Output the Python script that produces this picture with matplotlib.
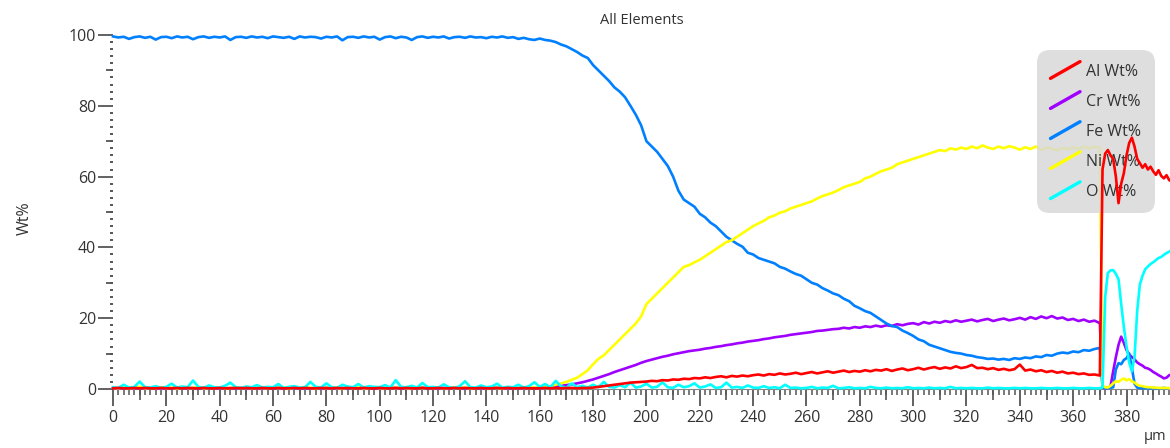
import numpy as np
import matplotlib
matplotlib.use("Agg")
import matplotlib.pyplot as plt
from matplotlib.lines import Line2D
from matplotlib.legend_handler import HandlerBase
from matplotlib.ticker import MultipleLocator

plt.rcParams["font.family"] = ["Open Sans", "DejaVu Sans"]

# positions along the line scan (µm)
x_main = np.arange(0, 372, 2)      # 0 .. 370
x_tail = np.arange(371, 398, 1)    # 371 .. 397 (oxide zone)

fe_main = [
    99.6, 99.3, 99.5, 98.9, 99.4, 99.6, 99.2, 99.5, 98.7, 99.4,
    99.5, 99.1, 99.6, 99.3, 99.5, 98.8, 99.4, 99.6, 99.2, 99.5,
    99.3, 99.6, 98.6, 99.4, 99.5, 99.2, 99.6, 99.3, 99.5, 99.1,
    99.6, 99.4, 99.2, 99.5, 98.9, 99.6, 99.3, 99.5, 99.4, 99.0,
    99.5, 99.3, 99.6, 98.5, 99.4, 99.5, 99.2, 99.6, 99.3, 99.5,
    98.7, 99.4, 99.6, 99.1, 99.5, 99.3, 98.6, 99.4, 99.6, 99.2,
    99.5, 99.3, 99.6, 99.0, 99.4, 99.5, 99.2, 99.6, 99.3, 99.4,
    99.1, 99.5, 99.3, 99.6, 99.2, 99.4, 98.9, 99.2, 98.8, 98.6,
    99.0, 98.6, 98.4, 98.0, 97.3, 96.8, 96.0, 95.2, 94.2, 93.5,
    91.5, 90.0, 88.5, 87.0, 85.2, 84.0, 82.4, 80.0, 77.5, 74.5,
    70.0, 68.5, 67.0, 65.0, 63.0, 60.0, 56.0, 53.5, 52.5, 51.5,
    49.5, 48.5, 47.0, 46.0, 44.5, 43.0, 42.0, 41.0, 40.2, 38.5,
    38.0, 37.0, 36.5, 36.0, 35.5, 34.5, 34.0, 33.2, 32.5, 32.0,
    31.0, 30.0, 29.5, 28.5, 27.8, 27.0, 26.5, 25.5, 24.8, 23.5,
    22.8, 22.0, 21.5, 20.5, 19.5, 18.5, 17.8, 17.5, 16.5, 15.8,
    15.0, 14.0, 13.5, 12.5, 12.0, 11.5, 11.0, 10.5, 10.2, 10.0,
    9.6, 9.4, 9.0, 8.8, 8.5, 8.6, 8.3, 8.5, 8.2, 8.7,
    8.5, 8.9, 8.7, 9.2, 9.0, 9.6, 9.4, 10.0, 10.3, 10.1,
    10.6, 10.4, 11.0, 10.8, 11.3, 11.6,
]
fe_tail = [0.5, 0.2, 0.3, 0.3, 0.5, 5.5, 7.3, 7.0, 8.2, 8.7, 10.0, 6.0, 1.5, 0.4,
           0.3, 0.2, 0.3, 0.2, 0.2, 0.3, 0.2, 0.2, 0.2, 0.3, 0.2, 0.2, 0.2]

ni_main = [
    0.4, 0.2, 0.5, 0.3, 0.3, 0.6, 0.2, 0.4, 0.3, 0.5,
    0.3, 0.4, 0.2, 0.5, 0.3, 0.3, 0.6, 0.2, 0.4, 0.3,
    0.5, 0.2, 0.3, 0.4, 0.3, 0.5, 0.2, 0.4, 0.3, 0.3,
    0.4, 0.3, 0.5, 0.2, 0.4, 0.3, 0.6, 0.3, 0.2, 0.4,
    0.3, 0.5, 0.3, 0.2, 0.4, 0.3, 0.5, 0.2, 0.3, 0.4,
    0.3, 0.2, 0.5, 0.3, 0.4, 0.3, 0.2, 0.5, 0.3, 0.4,
    0.3, 0.4, 0.2, 0.3, 0.5, 0.3, 0.4, 0.2, 0.3, 0.5,
    0.3, 0.4, 0.3, 0.2, 0.5, 0.3, 0.4, 0.3, 0.5, 0.4,
    0.4, 0.6, 0.8, 1.2, 1.6, 2.0, 2.6, 3.2, 4.2, 5.3,
    7.0, 8.5, 9.5, 11.0, 12.5, 14.0, 15.5, 17.0, 18.5, 20.5,
    24.0, 25.5, 27.0, 28.5, 30.0, 31.5, 33.0, 34.5, 35.0, 35.8,
    36.5, 37.5, 38.5, 39.5, 40.5, 41.5, 42.0, 43.0, 44.0, 45.0,
    46.0, 46.8, 47.5, 48.5, 49.0, 49.8, 50.2, 51.0, 51.5, 52.0,
    52.5, 53.0, 53.8, 54.5, 55.0, 55.5, 56.2, 57.0, 57.5, 58.0,
    58.5, 59.5, 60.0, 60.8, 61.5, 62.0, 62.5, 63.5, 64.0, 64.5,
    65.0, 65.5, 66.0, 66.5, 67.0, 67.5, 67.2, 68.0, 67.6, 68.2,
    67.8, 68.5, 68.0, 68.8, 68.2, 67.8, 68.5, 68.0, 68.6, 68.2,
    67.6, 68.3, 67.8, 68.5, 67.5, 68.2, 67.9, 67.4, 68.1, 67.7,
    68.3, 67.8, 68.5, 68.0, 68.4, 68.2,
]
ni_tail = [1.0, 0.5, 0.4, 0.9, 1.6, 2.2, 2.0, 2.6, 3.0, 2.4, 2.8, 2.2, 1.8, 1.2,
           0.9, 0.8, 0.6, 0.5, 0.5, 0.4, 0.4, 0.3, 0.3, 0.3, 0.3, 0.2, 0.2]

cr_main = [
    0.3, 0.2, 0.3, 0.4, 0.2, 0.3, 0.2, 0.4, 0.3, 0.2,
    0.3, 0.2, 0.4, 0.3, 0.2, 0.3, 0.2, 0.3, 0.4, 0.2,
    0.3, 0.2, 0.3, 0.2, 0.4, 0.3, 0.2, 0.3, 0.2, 0.4,
    0.2, 0.3, 0.2, 0.4, 0.3, 0.2, 0.3, 0.2, 0.3, 0.2,
    0.4, 0.3, 0.2, 0.3, 0.2, 0.4, 0.3, 0.2, 0.3, 0.2,
    0.3, 0.2, 0.4, 0.3, 0.2, 0.3, 0.2, 0.3, 0.4, 0.2,
    0.3, 0.2, 0.3, 0.2, 0.4, 0.3, 0.2, 0.3, 0.2, 0.3,
    0.2, 0.4, 0.3, 0.2, 0.3, 0.2, 0.3, 0.2, 0.4, 0.3,
    0.3, 0.4, 0.5, 0.7, 0.9, 1.1, 1.3, 1.6, 1.9, 2.3,
    2.7, 3.2, 3.7, 4.2, 4.8, 5.3, 5.8, 6.3, 6.8, 7.4,
    7.9, 8.3, 8.7, 9.1, 9.4, 9.8, 10.1, 10.4, 10.7, 10.9,
    11.1, 11.4, 11.6, 11.9, 12.1, 12.4, 12.6, 12.9, 13.1, 13.4,
    13.6, 13.8, 14.1, 14.3, 14.6, 14.8, 15.0, 15.3, 15.5, 15.7,
    15.9, 16.1, 16.4, 16.5, 16.7, 16.9, 17.0, 17.3, 17.1, 17.5,
    17.3, 17.7, 17.5, 17.9, 17.6, 18.0, 17.8, 18.3, 18.0, 18.4,
    18.6, 18.2, 18.9, 18.5, 19.0, 18.7, 19.2, 18.9, 19.4, 19.0,
    19.3, 19.6, 19.1, 19.5, 19.8, 19.2, 19.6, 19.9, 19.4, 19.7,
    20.1, 19.6, 20.3, 19.8, 20.5, 20.0, 20.6, 19.9, 20.2, 19.5,
    19.8, 19.2, 19.6, 19.0, 19.3, 18.6,
]
cr_tail = [0.5, 0.2, 0.3, 0.8, 5.0, 9.0, 12.5, 14.8, 13.0, 11.0, 9.8, 9.0, 8.4, 7.5,
           7.0, 6.6, 6.0, 5.8, 5.4, 4.8, 4.4, 3.9, 3.5, 3.0, 3.2, 3.9, 4.1]

al_main = [
    0.2, 0.3, 0.2, 0.2, 0.3, 0.2, 0.3, 0.2, 0.2, 0.3,
    0.2, 0.2, 0.3, 0.2, 0.3, 0.2, 0.2, 0.3, 0.2, 0.2,
    0.3, 0.2, 0.2, 0.3, 0.2, 0.3, 0.2, 0.2, 0.3, 0.2,
    0.2, 0.3, 0.2, 0.2, 0.3, 0.2, 0.3, 0.2, 0.2, 0.3,
    0.2, 0.2, 0.3, 0.2, 0.3, 0.2, 0.2, 0.3, 0.2, 0.2,
    0.3, 0.2, 0.2, 0.3, 0.2, 0.3, 0.2, 0.2, 0.3, 0.2,
    0.2, 0.3, 0.2, 0.2, 0.3, 0.2, 0.3, 0.2, 0.2, 0.3,
    0.2, 0.2, 0.3, 0.2, 0.3, 0.2, 0.2, 0.3, 0.2, 0.2,
    0.2, 0.3, 0.2, 0.3, 0.2, 0.3, 0.3, 0.2, 0.3, 0.3,
    0.4, 0.6, 0.8, 1.0, 1.2, 1.4, 1.6, 1.8, 1.9, 2.0,
    2.1, 2.3, 2.2, 2.5, 2.4, 2.7, 2.6, 2.9, 2.8, 3.1,
    3.0, 3.3, 3.1, 3.4, 3.6, 3.3, 3.7, 3.5, 3.8, 3.6,
    3.9, 4.1, 3.8, 4.2, 4.0, 4.4, 4.1, 4.3, 4.6, 4.2,
    4.5, 4.8, 4.4, 4.7, 5.0, 4.6, 4.9, 5.2, 4.8, 5.1,
    4.9, 5.3, 5.0, 5.4, 5.2, 5.6, 5.1, 5.5, 5.8, 5.3,
    5.6, 6.0, 5.5, 5.9, 6.2, 5.7, 6.1, 5.8, 6.4, 5.9,
    6.2, 6.8, 5.9, 6.0, 5.6, 5.9, 5.4, 5.7, 5.3, 5.6,
    6.9, 5.2, 5.5, 5.0, 5.3, 4.8, 5.1, 4.6, 4.9, 4.4,
    4.6, 4.2, 4.4, 4.0, 4.1, 3.8,
]
al_tail = [62.0, 66.5, 67.5, 66.0, 65.0, 60.0, 52.5, 58.0, 61.0, 66.0, 69.5, 71.0,
           68.5, 65.0, 63.8, 62.5, 63.5, 62.0, 62.8, 61.5, 60.5, 61.8, 60.2, 59.5,
           60.4, 59.0, 58.6]

o_main = [
    0.5, 0.3, 1.2, 0.4, 0.6, 2.1, 0.5, 0.4, 0.8, 0.3,
    0.6, 1.5, 0.4, 0.7, 0.5, 2.4, 0.6, 0.3, 1.0, 0.5,
    0.4, 0.9, 1.8, 0.5, 0.3, 0.7, 0.5, 1.1, 0.4, 0.6,
    0.5, 1.4, 0.3, 0.6, 0.8, 0.4, 0.5, 2.0, 0.6, 0.4,
    1.6, 0.5, 0.3, 1.2, 0.7, 0.5, 1.4, 0.4, 0.8, 0.6,
    0.5, 1.1, 0.4, 2.5, 0.6, 0.5, 0.9, 0.4, 1.7, 0.5,
    0.6, 0.4, 1.3, 0.5, 0.3, 0.8, 2.2, 0.5, 0.4, 1.0,
    0.5, 0.7, 1.5, 0.4, 0.6, 0.5, 1.2, 0.4, 0.8, 1.9,
    0.6, 1.4, 0.5, 2.3, 0.7, 0.4, 1.6, 0.5, 0.9, 0.4,
    1.2, 0.5, 2.0, 0.6, 0.4, 1.1, 0.5, 1.8, 0.4, 0.7,
    1.5, 0.4, 0.6, 1.9, 0.5, 0.3, 1.2, 0.5, 0.8, 1.6,
    0.4, 0.7, 1.3, 0.3, 0.5, 1.8, 0.4, 0.6, 0.3, 1.0,
    0.4, 0.3, 0.8, 0.3, 0.5, 0.2, 1.2, 0.3, 0.4, 0.2,
    0.3, 0.6, 0.2, 0.4, 0.3, 0.9, 0.2, 0.3, 0.5, 0.2,
    0.3, 0.2, 0.6, 0.3, 0.2, 0.4, 0.2, 0.3, 0.2, 0.5,
    0.2, 0.3, 0.2, 0.4, 0.2, 0.3, 0.2, 0.6, 0.2, 0.3,
    0.2, 0.3, 0.2, 0.2, 0.4, 0.2, 0.3, 0.2, 0.2, 0.3,
    0.2, 0.3, 0.2, 0.2, 0.3, 0.2, 0.2, 0.3, 0.2, 0.2,
    0.3, 0.2, 0.2, 0.3, 0.2, 0.2,
]
o_tail = [0.5, 26.0, 32.8, 33.5, 33.6, 32.5, 31.0, 24.0, 17.5, 12.0, 7.5, 5.0, 9.0,
          22.0, 29.5, 32.0, 33.8, 34.6, 35.3, 35.8, 36.4, 37.0, 37.3, 37.9, 38.4,
          38.8, 39.3]

labels = ["Al Wt%", "Cr Wt%", "Fe Wt%", "Ni Wt%", "O Wt%"]
colors = ["#ff0000", "#a000ff", "#0080ff", "#ffff00", "#00ffff"]


class DiagonalHandler(HandlerBase):
    # legend key drawn as a short rising stroke
    def create_artists(self, legend, orig_handle, xdescent, ydescent,
                       width, height, fontsize, trans):
        line = Line2D([-xdescent, -xdescent + width],
                      [-ydescent - 0.25 * height, -ydescent + 1.25 * height],
                      color=orig_handle.get_color(), lw=2.4,
                      solid_capstyle="round", transform=trans)
        return [line]


x_all = np.concatenate([x_main, x_tail])
series = {
    "Al Wt%": al_main + al_tail,
    "Cr Wt%": cr_main + cr_tail,
    "Fe Wt%": fe_main + fe_tail,
    "Ni Wt%": ni_main + ni_tail,
    "O Wt%": o_main + o_tail,
}
zorders = {"Al Wt%": 5, "Cr Wt%": 3, "Fe Wt%": 3, "Ni Wt%": 3, "O Wt%": 3.2}

fig = plt.figure(figsize=(11.7, 4.48), dpi=100)
ax = fig.add_axes([113 / 1170, 59 / 448, 1 - 113 / 1170, 354 / 448])

handles = []
for lab, col in zip(labels, colors):
    h, = ax.plot(x_all, series[lab], color=col, lw=1.9, clip_on=False,
                 zorder=zorders[lab], label=lab)
    handles.append(h)

ax.set_xlim(0, 396.3)
ax.set_ylim(0, 100)

for s in ["top", "right", "left"]:
    ax.spines[s].set_visible(False)
ax.spines["bottom"].set_color("#888888")
ax.spines["bottom"].set_linewidth(0.8)

ax.xaxis.set_major_locator(MultipleLocator(20))
ax.xaxis.set_minor_locator(MultipleLocator(2))
ax.yaxis.set_major_locator(MultipleLocator(20))
ax.yaxis.set_minor_locator(MultipleLocator(2))
ax.tick_params(axis="x", which="major", length=12, width=1.3, color="#555555",
               labelsize=11.5, labelcolor="#333333", pad=3)
ax.tick_params(axis="x", which="minor", length=4, width=1.1, color="#555555")
ax.tick_params(axis="y", which="major", length=11, width=1.3, color="#555555",
               labelsize=11.5, labelcolor="#333333", pad=1)
ax.tick_params(axis="y", which="minor", length=2.2, width=1.4, color="#555555")

# medium ticks every 10
sec_x = ax.secondary_xaxis("bottom")
sec_x.set_xticks(np.arange(10, 400, 20))
sec_x.set_xticklabels([])
sec_x.tick_params(length=8, width=1.2, color="#555555")
sec_x.spines["bottom"].set_visible(False)
sec_x.xaxis.set_minor_locator(plt.NullLocator())
sec_y = ax.secondary_yaxis("left")
sec_y.set_yticks(np.arange(10, 100, 20))
sec_y.set_yticklabels([])
sec_y.tick_params(length=5, width=1.3, color="#555555")
sec_y.spines["left"].set_visible(False)
sec_y.yaxis.set_minor_locator(plt.NullLocator())

# end ticks of the y axis are light grey
yticks = ax.yaxis.get_major_ticks()
for t, v in zip(yticks, ax.get_yticks()):
    if v in (0, 100):
        t.tick1line.set_color("#b0b0b0")

ax.set_title("All Elements", fontsize=10.5, color="#333333", pad=8)
fig.text(25 / 1170, 1 - 218 / 448, "Wt%", rotation=90, ha="center", va="center",
         fontsize=11.5, color="#333333")
fig.text(0.997, 0.008, "µm", ha="right", va="bottom", fontsize=10.5, color="#333333")

leg = ax.legend(handles=handles, loc="upper right",
                bbox_to_anchor=((1155 - 113) / 1057, (389 - 50) / 354),
                borderaxespad=0, fontsize=11.5, frameon=True, fancybox=True,
                handler_map={Line2D: DiagonalHandler()},
                handlelength=1.85, handletextpad=0.4, labelspacing=0.88,
                borderpad=0.85, labelcolor="#333333")
leg.get_frame().set_facecolor("#d9d9d9")
leg.get_frame().set_edgecolor("none")
leg.get_frame().set_alpha(0.85)
leg.get_frame().set_boxstyle("round,pad=0,rounding_size=0.8")
leg.set_zorder(4)

fig.savefig("out.png", dpi=100)
